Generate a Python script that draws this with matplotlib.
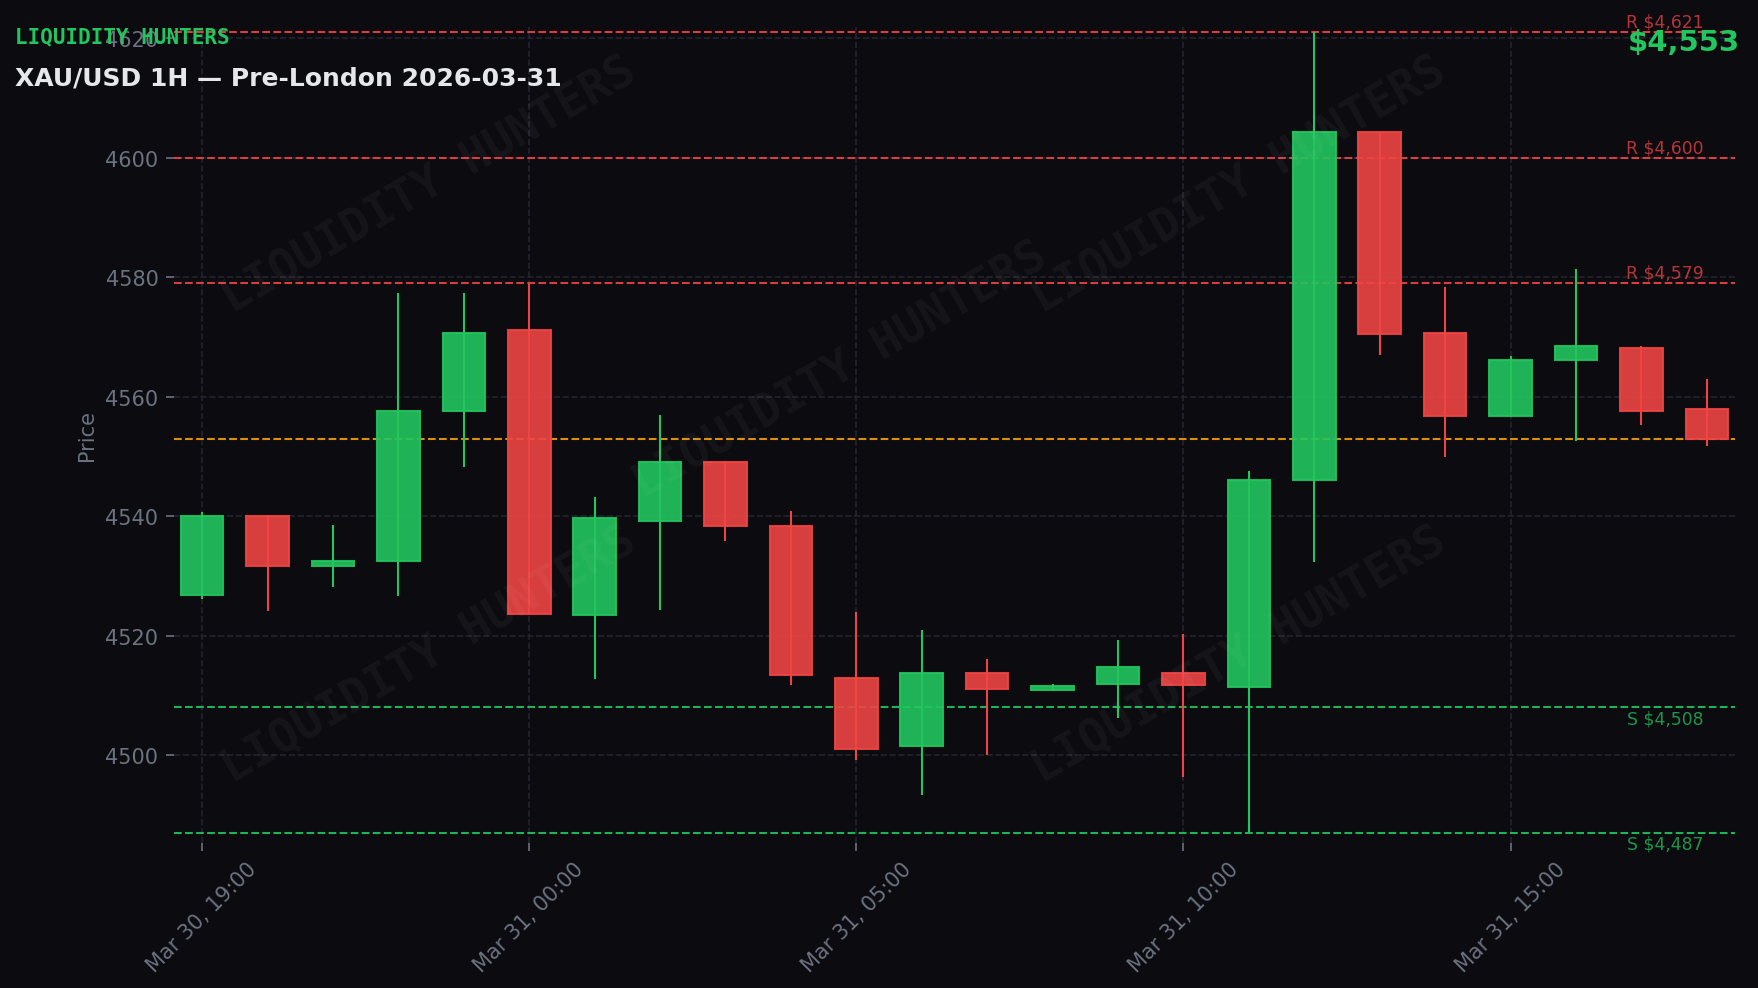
import matplotlib
matplotlib.use("Agg")
import matplotlib.pyplot as plt
import matplotlib.dates as mdates
import matplotlib.transforms as mtransforms
import pandas as pd

# ---------------- data ----------------
start_time = "2026-03-30 19:00"
n_candles = 24
opens  = [4526.8, 4540.0, 4531.7, 4532.5, 4557.6, 4571.2, 4523.5, 4539.2, 4549.1, 4538.4,
          4512.9, 4501.5, 4513.7, 4510.9, 4512.0, 4513.7, 4511.4, 4546.0, 4604.4, 4570.7,
          4556.7, 4566.2, 4568.1, 4557.9]
highs  = [4540.7, 4540.2, 4538.6, 4577.3, 4577.3, 4578.9, 4543.3, 4556.9, 4549.2, 4540.9,
          4523.9, 4520.9, 4516.1, 4511.9, 4519.3, 4520.3, 4547.5, 4621.0, 4604.4, 4578.4,
          4566.8, 4581.4, 4568.5, 4562.9]
lows   = [4526.1, 4524.2, 4528.1, 4526.6, 4548.3, 4523.5, 4512.8, 4524.3, 4535.8, 4511.8,
          4499.2, 4493.4, 4500.0, 4510.8, 4506.2, 4496.4, 4487.0, 4532.3, 4567.0, 4549.9,
          4556.6, 4552.6, 4555.2, 4551.7]
closes = [4540.0, 4531.7, 4532.5, 4557.6, 4570.6, 4523.6, 4539.7, 4549.1, 4538.3, 4513.5,
          4501.1, 4513.7, 4511.1, 4511.6, 4514.8, 4511.8, 4546.0, 4604.4, 4570.5, 4556.8,
          4566.2, 4568.5, 4557.7, 4553.0]
resistance_levels = [4621, 4600, 4579]
support_levels = [4508, 4487]
current_price = 4553
brand = "LIQUIDITY HUNTERS"
title = "XAU/USD 1H — Pre-London 2026-03-31"
tick_every = 5

# ---------------- style ----------------
BG = "#0b0b10"
GREEN = "#22c55e"
RED = "#ef4444"
ORANGE = "#f59e0b"
GRAY = "#6b7280"
GRID = "#23242d"
TITLE_C = "#e5e7eb"

times = pd.date_range(start_time, periods=n_candles, freq="h")
x = mdates.date2num(times.to_pydatetime())
hour = 1.0 / 24.0

fig = plt.figure(figsize=(11.72, 6.5933), dpi=150, facecolor=BG)
ax = fig.add_axes([0.09898, 0.1466, 0.8879, 0.8251])
ax.set_facecolor(BG)

# watermarks
wm_pos = [(0.244, 0.813), (0.705, 0.813), (0.478, 0.626), (0.244, 0.337), (0.705, 0.337)]
for (wx, wy) in wm_pos:
    fig.text(wx, wy, brand, fontsize=22, fontfamily="DejaVu Sans Mono", fontweight="bold",
             color="white", alpha=0.045, rotation=30, ha="center", va="center", zorder=0)

# candles
width = 0.65 * hour
for xi, o, h, l, c in zip(x, opens, highs, lows, closes):
    col = GREEN if c >= o else RED
    ax.vlines(xi, l, h, color=col, linewidth=1.0, zorder=3)
    ax.bar(xi, abs(c - o), bottom=min(o, c), width=width, color=col, alpha=0.9,
           edgecolor=col, linewidth=1.0, zorder=4)

# level lines
blend = mtransforms.blended_transform_factory(ax.transAxes, ax.transData)
for lv in resistance_levels:
    ax.axhline(lv, color=RED, linestyle="--", linewidth=1.0, alpha=0.9, zorder=2)
    ax.text(0.98, lv + 0.3, f"R ${lv:,}", transform=blend, ha="right", va="bottom",
            color=RED, alpha=0.75, fontsize=8.3, zorder=5)
for lv in support_levels:
    ax.axhline(lv, color=GREEN, linestyle="--", linewidth=1.0, alpha=0.9, zorder=2)
    ax.text(0.98, lv - 0.3, f"S ${lv:,}", transform=blend, ha="right", va="top",
            color=GREEN, alpha=0.75, fontsize=8.3, zorder=5)
ax.axhline(current_price, color=ORANGE, linestyle="--", linewidth=1.0, alpha=0.9, zorder=2)

# axes
ax.set_xlim(x[0] - 0.43 * hour, x[-1] + 0.43 * hour)
ax.set_ylim(4485.3, 4621.9)
ax.set_xticks(x[::tick_every])
ax.xaxis.set_major_formatter(mdates.DateFormatter("%b %d, %H:%M"))
plt.setp(ax.get_xticklabels(), rotation=45, ha="center")
ax.tick_params(colors=GRAY, labelsize=10, length=4)
ax.set_ylabel("Price", color=GRAY, fontsize=10)
ax.grid(True, color=GRID, linestyle="--", linewidth=0.8)
ax.set_axisbelow(True)
for s in ax.spines.values():
    s.set_visible(False)

# header texts
fig.text(0.0083, 0.9626, brand, fontsize=10, fontfamily="DejaVu Sans Mono", fontweight="bold",
         color=GREEN, ha="left", va="center")
fig.text(0.0083, 0.921, title, fontsize=12, fontweight="bold", color=TITLE_C,
         ha="left", va="center")
fig.text(0.990, 0.957, f"${current_price:,}", fontsize=14, fontweight="bold", color=GREEN,
         ha="right", va="center")

fig.savefig("out.png", dpi=150, facecolor=BG)
